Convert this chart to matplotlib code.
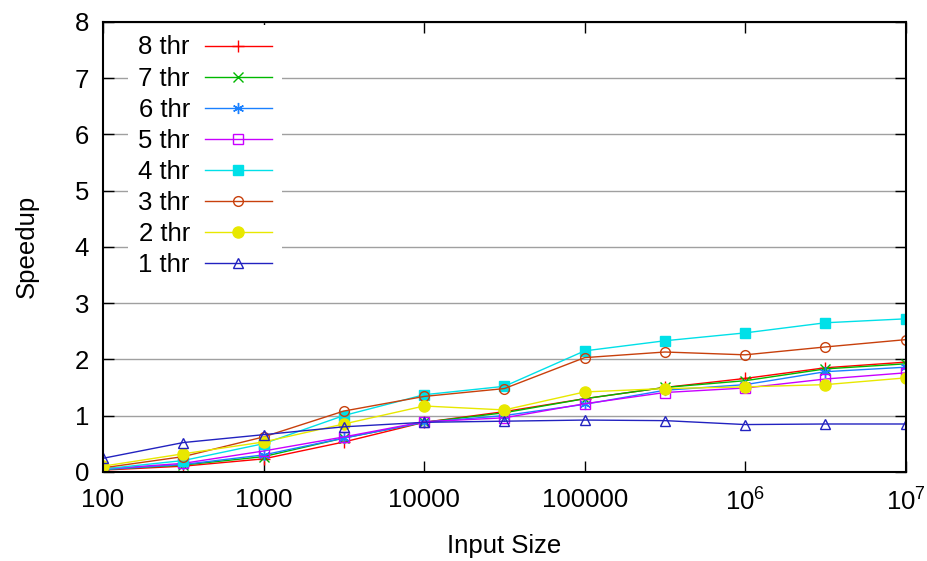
import numpy as np
import matplotlib
matplotlib.use("Agg")
from matplotlib import pyplot as plt
from matplotlib.ticker import FixedLocator, FixedFormatter, NullLocator

plt.rcParams['font.family'] = ['Liberation Sans', 'DejaVu Sans']
plt.rcParams['mathtext.default'] = 'regular'

# input sizes (log spaced, half decades)
sizes = [100, 316, 1000, 3162, 10000, 31623, 100000, 316228, 1000000, 3162278, 10000000]

thr8 = [0.03, 0.10, 0.23, 0.53, 0.88, 1.07, 1.30, 1.50, 1.66, 1.85, 1.95]
thr7 = [0.04, 0.12, 0.27, 0.60, 0.88, 1.05, 1.30, 1.50, 1.62, 1.83, 1.92]
thr6 = [0.04, 0.13, 0.30, 0.60, 0.88, 1.00, 1.20, 1.45, 1.55, 1.78, 1.86]
thr5 = [0.05, 0.15, 0.37, 0.62, 0.89, 0.96, 1.21, 1.41, 1.49, 1.65, 1.76]
thr4 = [0.05, 0.20, 0.50, 1.00, 1.37, 1.52, 2.15, 2.33, 2.47, 2.65, 2.72]
thr3 = [0.07, 0.27, 0.62, 1.08, 1.34, 1.48, 2.03, 2.13, 2.08, 2.22, 2.35]
thr2 = [0.10, 0.32, 0.53, 0.85, 1.17, 1.10, 1.42, 1.48, 1.51, 1.55, 1.67]
thr1 = [0.24, 0.52, 0.66, 0.80, 0.88, 0.90, 0.92, 0.91, 0.84, 0.85, 0.85]

labels = ["8 thr", "7 thr", "6 thr", "5 thr", "4 thr", "3 thr", "2 thr", "1 thr"]
series = [thr8, thr7, thr6, thr5, thr4, thr3, thr2, thr1]
colors = ["#ff0000", "#00b800", "#1a80ff", "#c800ff", "#00e0e8", "#c8400c", "#e8e800", "#2222c0"]
markers = ["+", "x", (6, 2, 0), "s", "s", "o", "o", "^"]
filled = [True, True, True, False, True, False, True, False]
msizes = [8, 7, 8, 7, 7, 7, 8, 7]

FS = 18.5

fig = plt.figure(figsize=(9.28, 5.61), dpi=100)
ax = fig.add_axes([0.111, 0.159, 0.865, 0.802])

for y, lab, c, m, f, ms in zip(series, labels, colors, markers, filled, msizes):
    ax.plot(sizes, y, color=c, lw=1.0, marker=m, markersize=ms,
            markerfacecolor=(c if f else 'none'), markeredgecolor=c,
            markeredgewidth=1.0, label=lab)

ax.set_xscale('log')
ax.set_xlim(100, 1e7)
ax.set_ylim(0, 8)

ax.xaxis.set_major_locator(FixedLocator([1e2, 1e3, 1e4, 1e5, 1e6, 1e7]))
ax.xaxis.set_major_formatter(FixedFormatter(["100", "1000", "10000", "100000", "10$^{6}$", "10$^{7}$"]))
ax.xaxis.set_minor_locator(NullLocator())
ax.set_yticks(range(0, 9))

ax.tick_params(direction='in', length=8, width=1, labelsize=FS, top=True, right=True)
ax.tick_params(axis='x', pad=12)
ax.tick_params(axis='y', pad=10)
ax.grid(axis='y', color='#a0a0a0', lw=1)
ax.set_axisbelow(True)
for s in ax.spines.values():
    s.set_linewidth(1.5)

ax.set_xlabel("Input Size", fontsize=FS, labelpad=13)
ax.set_ylabel("Speedup", fontsize=FS, labelpad=26)

leg = ax.legend(loc='upper left', bbox_to_anchor=(0.025, 1.004), markerfirst=False, frameon=True,
                fontsize=FS, handlelength=2.6, handletextpad=0.58, labelspacing=0.275,
                borderaxespad=0.2, fancybox=False)
leg.get_frame().set_edgecolor('none')
leg.get_frame().set_facecolor('white')
leg.get_frame().set_alpha(1.0)

fig.savefig("out.png", dpi=100)
